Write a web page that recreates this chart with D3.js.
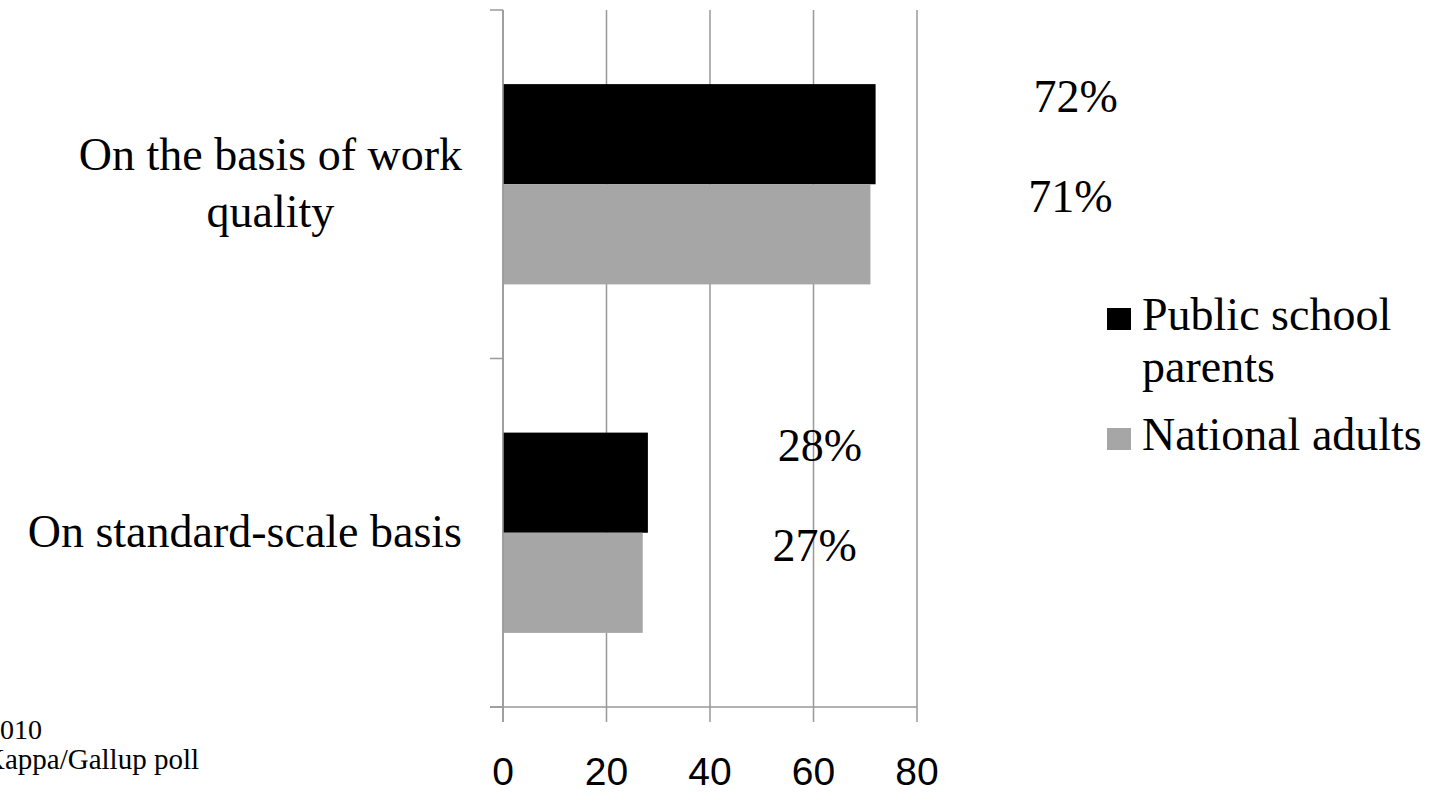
<!DOCTYPE html>
<html>
<head>
<meta charset="utf-8">
<script src="https://cdn.jsdelivr.net/npm/d3@7"></script>
<style>
  html, body { margin: 0; padding: 0; background: #fff; overflow: hidden; }
  svg { display: block; }
</style>
</head>
<body>
<svg id="chart" width="1433" height="792"></svg>
<script>
// ---- data ----
const categories = [["On the basis of work", "quality"], ["On standard-scale basis"]];
const seriesNames = [["Public school", "parents"], ["National adults"]];
const parents = [72, 28];
const adults = [71, 27];
const xTicks = [0, 20, 40, 60, 80];
const sourceLines = ["2010", "Kappa/Gallup poll"];

// ---- layout ----
const W = 1433, H = 792;
const plot = { left: 503, right: 917, top: 10, bottom: 707 };
const colors = ["#000000", "#a6a6a6"];
const gridColor = "#999999";
const serif = "'Liberation Serif', 'Times New Roman', serif";
const sans = "'Liberation Sans', Arial, sans-serif";
const labelDx = [200, 172];

const svg = d3.select("#chart");

const x = d3.scaleLinear().domain([0, 80]).range([plot.left, plot.right]);
const y = d3.scaleBand().domain(d3.range(categories.length)).range([plot.top, plot.bottom]).paddingInner(0).paddingOuter(0);
const inner = d3.scaleBand().domain([0, 1]).range([0, y.bandwidth()]).paddingInner(0).paddingOuter(0.74);

// grid lines
svg.append("g").selectAll("line").data(xTicks).join("line")
  .attr("x1", d => x(d)).attr("x2", d => x(d))
  .attr("y1", plot.top).attr("y2", plot.bottom + 15)
  .attr("stroke", gridColor).attr("stroke-width", 1.5);

// bottom axis line
svg.append("line")
  .attr("x1", plot.left - 13).attr("x2", plot.right)
  .attr("y1", plot.bottom).attr("y2", plot.bottom)
  .attr("stroke", gridColor).attr("stroke-width", 1.5);

// left axis ticks
const yTickPos = [plot.top].concat(d3.range(categories.length).map(i => y(i) + y.bandwidth()));
svg.append("g").selectAll("line").data(yTickPos).join("line")
  .attr("x1", plot.left - 13).attr("x2", plot.left)
  .attr("y1", d => d).attr("y2", d => d)
  .attr("stroke", gridColor).attr("stroke-width", 1.5);

// tick labels
svg.append("g").selectAll("text").data(xTicks).join("text")
  .attr("x", d => x(d)).attr("y", 785)
  .attr("text-anchor", "middle")
  .attr("font-family", sans).attr("font-size", 39).attr("fill", "#000")
  .text(d => d);

// bars
const series = [parents, adults];
series.forEach((vals, s) => {
  svg.append("g").selectAll("rect").data(vals).join("rect")
    .attr("x", x(0))
    .attr("y", (d, i) => y(i) + inner(s))
    .attr("width", d => x(d) - x(0))
    .attr("height", inner.bandwidth())
    .attr("fill", colors[s]);
});

// y-axis line drawn over bars
svg.append("line")
  .attr("x1", plot.left).attr("x2", plot.left)
  .attr("y1", plot.top).attr("y2", plot.bottom + 15)
  .attr("stroke", gridColor).attr("stroke-width", 1.5);

// value labels
series.forEach((vals, s) => {
  svg.append("g").selectAll("text").data(vals).join("text")
    .attr("x", (d, i) => x(d) + labelDx[i])
    .attr("y", (d, i) => y(i) + inner(s) + inner.bandwidth() / 2 - 22)
    .attr("text-anchor", "middle")
    .attr("font-family", serif).attr("font-size", 46).attr("fill", "#000")
    .text(d => d + "%");
});

// category labels
categories.forEach((lines, i) => {
  const cy = y(i) + y.bandwidth() / 2;
  const lh = 57;
  const g = svg.append("g");
  const t0 = g.append("text")
    .attr("x", 462)
    .attr("y", cy + 14 - (lines.length - 1) * lh / 2)
    .attr("text-anchor", "end")
    .attr("font-family", serif).attr("font-size", 46).attr("fill", "#000")
    .text(lines[0]);
  const w0 = t0.node().getComputedTextLength();
  for (let k = 1; k < lines.length; k++) {
    g.append("text")
      .attr("x", 462 - w0 / 2)
      .attr("y", cy + 14 - (lines.length - 1) * lh / 2 + k * lh)
      .attr("text-anchor", "middle")
      .attr("font-family", serif).attr("font-size", 46).attr("fill", "#000")
      .text(lines[k]);
  }
});

// legend
const legendBase = [330, 450];
seriesNames.forEach((lines, s) => {
  const b = legendBase[s];
  svg.append("rect")
    .attr("x", 1107).attr("y", b - 22)
    .attr("width", 24).attr("height", 22)
    .attr("fill", colors[s]);
  lines.forEach((ln, k) => {
    svg.append("text")
      .attr("x", 1142).attr("y", b + k * 52)
      .attr("font-family", serif).attr("font-size", 46).attr("fill", "#000")
      .text(ln);
  });
});

// source text (cut off at the left edge, as in the reference)
svg.append("text").attr("x", -14).attr("y", 739)
  .attr("font-family", serif).attr("font-size", 28).attr("fill", "#000")
  .text(sourceLines[0]);
svg.append("text").attr("x", -16).attr("y", 769)
  .attr("font-family", serif).attr("font-size", 29).attr("fill", "#000")
  .text(sourceLines[1]);
</script>
</body>
</html>
